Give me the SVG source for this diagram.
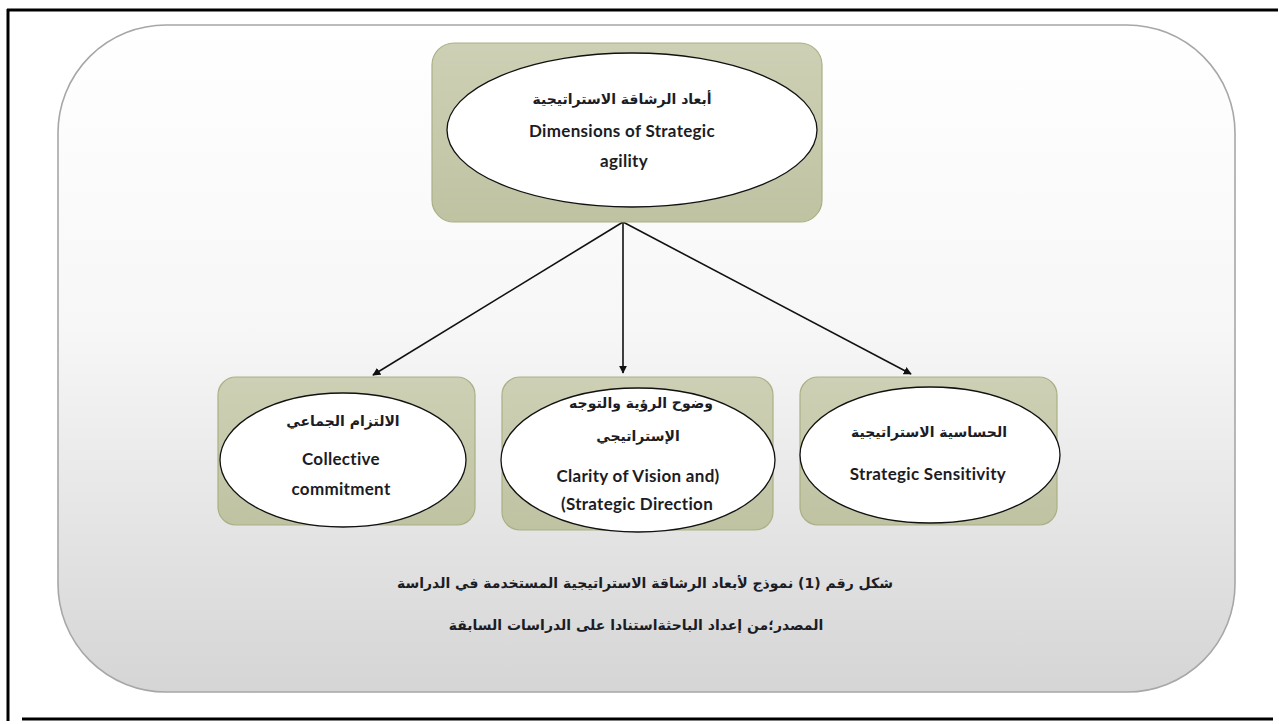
<svg xmlns="http://www.w3.org/2000/svg" width="1279" height="724" viewBox="0 0 1279 724">
<style>
.frame{stroke:#000;stroke-width:3;fill:none}
.node{fill:url(#ng);stroke:#aab084;stroke-width:1.2}
.ell{fill:#fff;stroke:#111;stroke-width:1.3}
.en{font-family:Lato,"Open Sans","DejaVu Sans",sans-serif;font-weight:bold;font-size:17px;letter-spacing:0.3px;fill:#1c1c24;text-anchor:middle}
.ar{font-family:"DejaVu Sans",sans-serif;font-weight:bold;font-size:14px;fill:#1c1c24;text-anchor:middle}
.conn{stroke:#111;stroke-width:1.6;fill:none;marker-end:url(#ah)}
</style>
<defs>
<linearGradient id="bg" x1="0" y1="0" x2="0" y2="1">
<stop offset="0" stop-color="#ffffff"/>
<stop offset="0.45" stop-color="#f7f7f7"/>
<stop offset="1" stop-color="#d5d5d5"/>
</linearGradient>
<linearGradient id="ng" x1="0" y1="0" x2="0" y2="1">
<stop offset="0" stop-color="#cdd0b4"/>
<stop offset="1" stop-color="#c0c3a2"/>
</linearGradient>
<marker id="ah" viewBox="0 0 10 10" refX="9" refY="5" markerWidth="5" markerHeight="5" orient="auto">
<path d="M0,0 L10,5 L0,10 z" fill="#111"/>
</marker>
</defs>
<rect width="1279" height="724" fill="#fff"/>
<g id="frame">
<line class="frame" x1="7" y1="10" x2="1278" y2="10"/>
<line class="frame" x1="8" y1="9" x2="8" y2="721"/>
<line class="frame" x1="22" y1="719" x2="1273" y2="719"/>
</g>
<g id="background">
<rect x="58" y="25" width="1177" height="667" rx="108" ry="108" fill="url(#bg)" stroke="#a8a6a6" stroke-width="1.6"/>
</g>
<g id="connectors">
<line class="conn" x1="623" y1="222" x2="373" y2="375"/>
<line class="conn" x1="623" y1="222" x2="623" y2="373"/>
<line class="conn" x1="623" y1="222" x2="911" y2="374"/>
</g>
<g id="node-top">
<rect class="node" x="432" y="43" width="390" height="179" rx="22"/>
<ellipse class="ell" cx="632" cy="130" rx="185" ry="77"/>
<text class="ar" x="622" y="104" direction="rtl">أبعاد الرشاقة الاستراتيجية</text>
<text class="en" x="622" y="137">Dimensions of Strategic</text>
<text class="en" x="624" y="167">agility</text>
</g>
<g id="node-collective">
<rect class="node" x="218" y="377" width="257" height="148" rx="18"/>
<ellipse class="ell" cx="343" cy="460" rx="123" ry="67"/>
<text class="ar" x="343" y="426" direction="rtl">الالتزام الجماعي</text>
<text class="en" x="341" y="465">Collective</text>
<text class="en" x="341" y="495">commitment</text>
</g>
<g id="node-clarity">
<rect class="node" x="502" y="377" width="271" height="153" rx="18"/>
<ellipse class="ell" cx="638" cy="460" rx="137" ry="72"/>
<text class="ar" x="641" y="408" direction="rtl">وضوح الرؤية والتوجه</text>
<text class="ar" x="638" y="441" direction="rtl">الإستراتيجي</text>
<text class="en" x="638" y="482">Clarity of Vision and)</text>
<text class="en" x="637" y="510">(Strategic Direction</text>
</g>
<g id="node-sensitivity">
<rect class="node" x="800" y="377" width="257" height="148" rx="18"/>
<ellipse class="ell" cx="930" cy="455" rx="130" ry="68"/>
<text class="ar" x="929" y="437" direction="rtl">الحساسية الاستراتيجية</text>
<text class="en" x="928" y="480">Strategic Sensitivity</text>
</g>
<g id="caption">
<text class="ar" x="645" y="588" direction="rtl">شكل رقم (1) نموذج لأبعاد الرشاقة الاستراتيجية المستخدمة في الدراسة</text>
<text class="ar" x="636" y="630" direction="rtl">المصدر؛من إعداد الباحثةاستنادا على الدراسات السابقة</text>
</g>
</svg>
